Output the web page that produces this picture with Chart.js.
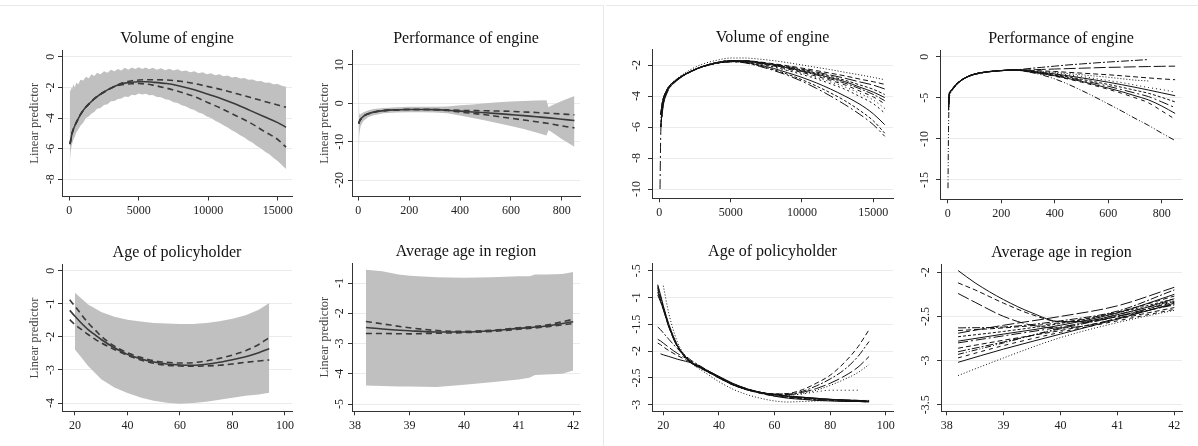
<!DOCTYPE html>
<html><head><meta charset="utf-8">
<script src="https://cdn.jsdelivr.net/npm/chart.js@4.4.1/dist/chart.umd.min.js"></script>
<style>
html,body{margin:0;padding:0;background:#fff;}
body{width:1198px;height:446px;position:relative;overflow:hidden;}
canvas{position:absolute;}
.ln{position:absolute;background:#e8e8e8;}
</style></head><body>
<div class="ln" style="left:0;top:5px;width:603px;height:1px"></div>
<div class="ln" style="left:603px;top:5px;width:1px;height:441px"></div>
<div class="ln" style="left:606px;top:5px;width:592px;height:1px"></div>
<script>
// ---------- Tick values / labels ----------
const p1XTicks = [0,5000,10000,15000];   const p1YTicks = [0,-2,-4,-6,-8];
const p2XTicks = [0,200,400,600,800];    const p2YTicks = [10,0,-10,-20];
const p3XTicks = [20,40,60,80,100];      const p3YTicks = [0,-1,-2,-3,-4];
const p4XTicks = [38,39,40,41,42];       const p4YTicks = [-1,-2,-3,-4,-5];
const p5XTicks = [0,5000,10000,15000];   const p5YTicks = [-2,-4,-6,-8,-10];
const p6XTicks = [0,200,400,600,800];    const p6YTicks = [0,-5,-10,-15];
const p7XTicks = [20,40,60,80,100];      const p7YTicks = [-0.5,-1,-1.5,-2,-2.5,-3];
const p7YLabels = ['-.5','-1','-1.5','-2','-2.5','-3'];
const p8XTicks = [38,39,40,41,42];       const p8YTicks = [-2,-2.5,-3,-3.5];

// ---------- Panel 1: Volume of engine (fit + CI + band) ----------
const p1BandX = [30,60,100,150,200,300,400,500,650,800,1000,1200,1400,1600,1800,2000,2250,2500,2750,3000,3250,3500,3750,4000,4250,4500,4750,5000,5250,5500,5750,6000,6300,6600,6900,7200,7500,7800,8100,8400,8700,9000,9300,9600,9900,10200,10500,10800,11100,11400,11700,12000,12300,12600,12900,13200,13500,13800,14100,14400,14700,15000,15300,15600];
const p1BandHi = [-2.2,-2.1,-2.3,-2.0,-2.1,-1.8,-2.0,-1.7,-1.8,-1.5,-1.55,-1.3,-1.4,-1.15,-1.25,-1.05,-1.15,-0.95,-1.05,-0.85,-0.95,-0.8,-0.9,-0.72,-0.85,-0.7,-0.8,-0.68,-0.8,-0.7,-0.82,-0.72,-0.85,-0.75,-0.88,-0.78,-0.9,-0.82,-0.95,-0.9,-1.02,-0.95,-1.08,-1.02,-1.15,-1.08,-1.2,-1.15,-1.28,-1.22,-1.35,-1.3,-1.42,-1.38,-1.5,-1.48,-1.6,-1.58,-1.7,-1.68,-1.8,-1.78,-1.9,-1.95];
const p1BandLo = [-8.7,-6.6,-6.2,-5.9,-5.7,-5.4,-5.2,-4.95,-4.75,-4.5,-4.3,-4.0,-3.9,-3.7,-3.6,-3.4,-3.35,-3.15,-3.1,-2.9,-2.88,-2.75,-2.72,-2.6,-2.62,-2.48,-2.52,-2.4,-2.47,-2.42,-2.52,-2.5,-2.62,-2.64,-2.77,-2.82,-2.97,-3.02,-3.17,-3.24,-3.4,-3.47,-3.64,-3.72,-3.9,-4.0,-4.17,-4.3,-4.47,-4.62,-4.8,-4.94,-5.12,-5.27,-5.47,-5.62,-5.82,-5.99,-6.2,-6.37,-6.6,-6.8,-7.07,-7.32];
const p1LineX = [50,200,500,1000,1500,2000,2500,3000,3500,4000,4500,5000,5500,6000,7000,8000,9000,10000,11000,12000,13000,14000,15000,15600];
const p1Fit = [-5.7,-5.0,-4.3,-3.5,-3.0,-2.6,-2.3,-2.05,-1.85,-1.72,-1.66,-1.63,-1.63,-1.66,-1.75,-1.92,-2.15,-2.45,-2.75,-3.1,-3.5,-3.9,-4.3,-4.6];
const p1Up  = [-5.7,-5.0,-4.3,-3.5,-3.0,-2.6,-2.3,-2.05,-1.82,-1.66,-1.57,-1.52,-1.5,-1.5,-1.52,-1.6,-1.75,-1.95,-2.15,-2.4,-2.65,-2.9,-3.15,-3.3];
const p1Lo  = [-5.7,-5.0,-4.3,-3.5,-3.0,-2.6,-2.3,-2.05,-1.88,-1.8,-1.76,-1.75,-1.78,-1.85,-2.05,-2.3,-2.6,-3.0,-3.4,-3.85,-4.3,-4.85,-5.4,-5.9];

// ---------- Panel 2: Performance of engine ----------
const p2BandX  = [0.5,2,3.5,6,10,20,40,60,100,150,200,250,300,350,400,450,500,550,600,650,700,740,748,760,800,850];
const p2BandHi = [12,4.5,-2.5,-3.0,-2.8,-2.3,-1.8,-1.5,-1.2,-1.0,-0.9,-0.9,-0.9,-0.8,-0.5,-0.3,0.0,0.3,0.5,0.6,0.7,0.8,-1.0,-0.6,0.6,1.9];
const p2BandLo = [-22.5,-14.5,-8.5,-7.0,-5.8,-4.6,-3.6,-3.1,-2.6,-2.4,-2.3,-2.3,-2.4,-2.6,-3.2,-3.8,-4.5,-5.2,-5.9,-6.7,-7.6,-8.4,-7.0,-7.5,-9.3,-11.3];
const p2LineX = [2,5,10,20,40,60,100,150,200,250,300,350,400,450,500,550,600,650,700,750,800,850];
const p2Fit = [-5.3,-4.6,-4.1,-3.4,-2.7,-2.3,-1.9,-1.7,-1.6,-1.6,-1.65,-1.8,-2.05,-2.25,-2.45,-2.7,-2.95,-3.2,-3.5,-3.8,-4.15,-4.5];
const p2Up  = [-5.3,-4.6,-4.1,-3.4,-2.7,-2.3,-1.9,-1.7,-1.6,-1.6,-1.62,-1.72,-1.85,-1.9,-1.95,-2.02,-2.1,-2.25,-2.4,-2.6,-2.8,-3.0];
const p2Lo  = [-5.3,-4.6,-4.1,-3.4,-2.7,-2.3,-1.9,-1.7,-1.6,-1.6,-1.68,-1.88,-2.3,-2.65,-3.0,-3.45,-3.9,-4.35,-4.8,-5.3,-5.9,-6.4];

// ---------- Panel 3: Age of policyholder ----------
const p3BandX  = [20,25,30,35,40,45,50,55,60,65,70,75,80,85,90,94];
const p3BandHi = [-0.67,-1.02,-1.25,-1.39,-1.48,-1.54,-1.58,-1.6,-1.61,-1.61,-1.58,-1.53,-1.45,-1.35,-1.18,-0.98];
const p3BandLo = [-2.38,-2.88,-3.28,-3.53,-3.7,-3.83,-3.93,-3.99,-4.02,-4.0,-3.96,-3.9,-3.84,-3.78,-3.74,-3.69];
const p3LineX = [18,20,22,25,28,30,35,40,45,50,55,60,65,70,75,80,85,90,94];
const p3Fit = [-1.2,-1.38,-1.55,-1.78,-1.96,-2.08,-2.33,-2.53,-2.66,-2.76,-2.82,-2.85,-2.86,-2.83,-2.77,-2.69,-2.6,-2.48,-2.36];
const p3Up  = [-0.88,-1.08,-1.28,-1.58,-1.82,-1.98,-2.28,-2.48,-2.62,-2.72,-2.77,-2.79,-2.78,-2.73,-2.65,-2.55,-2.42,-2.23,-2.02];
const p3Lo  = [-1.48,-1.63,-1.75,-1.93,-2.09,-2.18,-2.38,-2.56,-2.7,-2.8,-2.86,-2.88,-2.89,-2.88,-2.86,-2.82,-2.77,-2.73,-2.7];

// ---------- Panel 4: Average age in region ----------
const p4BandX  = [38.2,38.5,38.8,39,39.5,40,40.5,41,41.2,41.3,41.5,41.8,42];
const p4BandHi = [-0.56,-0.61,-0.72,-0.76,-0.81,-0.83,-0.81,-0.78,-0.78,-0.72,-0.72,-0.7,-0.64];
const p4BandLo = [-4.39,-4.4,-4.42,-4.42,-4.44,-4.36,-4.28,-4.19,-4.13,-4.04,-4.02,-4.0,-3.89];
const p4LineX = [38.2,38.5,39,39.5,40,40.5,41,41.5,42];
const p4Fit = [-2.47,-2.52,-2.58,-2.62,-2.62,-2.58,-2.5,-2.42,-2.28];
const p4Up  = [-2.27,-2.35,-2.48,-2.57,-2.6,-2.56,-2.48,-2.39,-2.2];
const p4Lo  = [-2.67,-2.67,-2.68,-2.66,-2.64,-2.6,-2.53,-2.45,-2.34];

// ---------- Panel 5: Volume of engine (many fits) ----------
const p5X = [50,100,200,300,500,750,1000,1500,2000,2500,3000,4000,5000,6000,7000,8000,9000,10000,11000,12000,13000,14000,15000,15800];
const p5HeadA = [null,-5.2,-4.5,-4.1,-3.65,-3.3,-3.1,-2.75,-2.5,-2.28,-2.1,-1.85,-1.72];
const p5HeadB = [null,-6.0,-5.0,-4.4,-3.8,-3.4,-3.15,-2.8,-2.52,-2.3,-2.12,-1.88,-1.78];
const p5HeadC = [-10,-6.5,-5.2,-4.5,-3.9,-3.45,-3.2,-2.82,-2.54,-2.32,-2.14,-1.9,-1.8];
const p5HeadD = [null,-5.4,-4.7,-4.2,-3.7,-3.3,-3.05,-2.7,-2.4,-2.15,-1.95,-1.7,-1.55];
const p5Tails = [
  [-1.55,-1.62,-1.72,-1.85,-2.0,-2.15,-2.3,-2.47,-2.63,-2.8,-2.95],
  [-1.72,-1.8,-1.92,-2.05,-2.2,-2.36,-2.53,-2.7,-2.9,-3.08,-3.25],
  [-1.72,-1.82,-1.95,-2.1,-2.27,-2.45,-2.65,-2.85,-3.08,-3.3,-3.55],
  [-1.74,-1.84,-1.98,-2.14,-2.32,-2.52,-2.74,-2.98,-3.27,-3.57,-3.9],
  [-1.75,-1.86,-2.0,-2.18,-2.38,-2.58,-2.82,-3.07,-3.41,-3.75,-4.1],
  [-1.76,-1.87,-2.02,-2.2,-2.42,-2.64,-2.9,-3.17,-3.51,-3.9,-4.3],
  [-1.78,-1.9,-2.06,-2.26,-2.48,-2.72,-2.99,-3.28,-3.66,-4.06,-4.5],
  [-1.8,-1.93,-2.11,-2.31,-2.54,-2.8,-3.09,-3.41,-3.81,-4.26,-4.8],
  [-1.8,-1.95,-2.13,-2.36,-2.61,-2.89,-3.21,-3.56,-4.01,-4.5,-5.1],
  [-1.82,-2.0,-2.22,-2.5,-2.8,-3.15,-3.55,-4.0,-4.5,-5.15,-5.85],
  [-1.85,-2.05,-2.3,-2.6,-2.95,-3.35,-3.8,-4.3,-4.9,-5.6,-6.4],
  [-1.86,-2.08,-2.35,-2.67,-3.05,-3.5,-4.0,-4.55,-5.15,-5.85,-6.6]
];

// ---------- Panel 6: Performance of engine (many fits) ----------
const p6X = [1,3,5,10,15,20,30,50,75,100,150,200,250,300,350,400,450,500,550,600,650,700,750,800,850];
const p6HeadA = [null,-6.5,-5.0,-4.3,-4.1,-3.9,-3.5,-2.9,-2.45,-2.15,-1.85,-1.7,-1.62];
const p6HeadB = [-16,-9,-5.8,-4.5,-4.2,-3.95,-3.55,-2.92,-2.47,-2.17,-1.86,-1.71,-1.63];
const p6HeadC = [null,-6.0,-4.6,-4.2,-4.0,-3.8,-3.4,-2.85,-2.4,-2.1,-1.82,-1.68,-1.6];
const p6Tails = [
  [-1.45,-1.3,-1.15,-1.0,-0.88,-0.76,-0.65,-0.55,-0.45,-0.35,null,null],
  [-1.6,-1.55,-1.5,-1.45,-1.4,-1.35,-1.3,-1.27,-1.23,-1.2,-1.17,-1.15],
  [-1.65,-1.72,-1.8,-1.9,-2.0,-2.1,-2.2,-2.32,-2.45,-2.58,-2.7,-2.8],
  [-1.7,-1.8,-1.92,-2.05,-2.2,-2.35,-2.5,-2.68,-2.85,-2.95,null,null],
  [-1.7,-1.85,-2.0,-2.2,-2.4,-2.65,-2.9,-3.15,-3.45,-3.75,-4.0,-4.3],
  [-1.72,-1.9,-2.1,-2.32,-2.57,-2.83,-3.1,-3.4,-3.72,-4.05,-4.4,-4.75],
  [-1.75,-1.95,-2.18,-2.45,-2.75,-3.05,-3.38,-3.72,-4.08,-4.45,-4.95,-5.5],
  [-1.78,-2.0,-2.25,-2.55,-2.88,-3.22,-3.6,-4.0,-4.42,-4.85,-5.5,-6.2],
  [-1.8,-2.05,-2.32,-2.65,-3.0,-3.4,-3.82,-4.25,-4.75,-5.25,-6.0,-6.9],
  [-1.82,-2.08,-2.38,-2.72,-3.1,-3.52,-3.97,-4.45,-5.0,-5.6,-6.6,-7.6],
  [-1.85,-2.2,-2.7,-3.35,-4.1,-4.9,-5.75,-6.6,-7.5,-8.35,-9.3,-10.2]
];

// ---------- Panel 7: Age of policyholder (many fits) ----------
const p7X = [18,19,20,22,25,28,30,35,40,45,50,55,60,65,70,75,80,85,90,94];
const p7Lines = [
  [-0.76,-0.95,-1.15,-1.5,-1.88,-2.1,-2.2,-2.34,-2.48,-2.62,-2.71,-2.77,-2.81,-2.84,-2.86,-2.88,-2.9,-2.91,-2.92,-2.93],
  [-0.8,-1.0,-1.18,-1.52,-1.9,-2.12,-2.22,-2.36,-2.5,-2.63,-2.72,-2.77,-2.8,-2.79,-2.72,-2.6,-2.45,-2.22,-1.92,-1.6],
  [-0.85,-1.02,-1.2,-1.53,-1.9,-2.11,-2.21,-2.35,-2.49,-2.62,-2.71,-2.77,-2.8,-2.8,-2.75,-2.65,-2.52,-2.35,-2.1,-1.82],
  [-0.9,-1.05,-1.22,-1.55,-1.92,-2.12,-2.22,-2.36,-2.5,-2.63,-2.72,-2.78,-2.81,-2.81,-2.77,-2.7,-2.6,-2.47,-2.3,-2.1],
  [-0.78,-0.97,-1.16,-1.5,-1.88,-2.1,-2.2,-2.35,-2.5,-2.63,-2.72,-2.78,-2.81,-2.82,-2.79,-2.73,-2.64,-2.53,-2.4,-2.25],
  [-0.82,-1.0,-1.18,-1.52,-1.9,-2.12,-2.22,-2.36,-2.5,-2.63,-2.72,-2.78,-2.81,-2.82,-2.8,-2.76,-2.73,-2.73,-2.73,null],
  [null,-2.05,-2.07,-2.1,-2.15,-2.19,-2.22,-2.34,-2.47,-2.6,-2.7,-2.78,-2.84,-2.88,-2.9,-2.92,-2.93,-2.94,-2.94,-2.95],
  [-1.85,-1.88,-1.92,-1.99,-2.08,-2.16,-2.21,-2.35,-2.49,-2.62,-2.72,-2.79,-2.84,-2.87,-2.89,-2.91,-2.92,-2.93,-2.94,-2.95],
  [-1.78,-1.81,-1.85,-1.93,-2.04,-2.13,-2.19,-2.34,-2.48,-2.61,-2.7,-2.77,-2.82,-2.85,-2.87,-2.89,-2.9,-2.91,-2.92,-2.93],
  [-1.55,-1.6,-1.66,-1.78,-1.95,-2.09,-2.17,-2.33,-2.48,-2.61,-2.71,-2.78,-2.83,-2.86,-2.88,-2.9,-2.91,-2.92,-2.93,-2.94],
  [null,null,-0.78,-1.3,-1.82,-2.1,-2.22,-2.4,-2.57,-2.71,-2.81,-2.88,-2.93,-2.95,-2.94,-2.93,-2.92,-2.92,-2.92,-2.92],
  [-0.95,-1.08,-1.22,-1.55,-1.9,-2.11,-2.21,-2.35,-2.49,-2.62,-2.71,-2.77,-2.81,-2.84,-2.86,-2.88,-2.9,-2.92,-2.93,-2.94]
];

// ---------- Panel 8: Average age in region (many fits) ----------
const p8CurveX = [38.2,38.5,39,39.5,40,40.5,41,41.5,42];
const p8Curves = [
  [-1.98,-2.12,-2.31,-2.46,-2.56,-2.55,-2.48,-2.4,-2.3],
  [-2.12,-2.2,-2.35,-2.48,-2.56,-2.56,-2.5,-2.42,-2.34],
  [-2.24,-2.34,-2.5,-2.6,-2.63,-2.6,-2.52,-2.44,-2.36]
];
const p8LineX = [38.2,39,40,41,42];
const p8Lines = [
  [-2.63,-2.62,-2.55,-2.44,-2.2],
  [-2.66,-2.63,-2.57,-2.45,-2.27],
  [-2.69,-2.6,-2.5,-2.38,-2.17],
  [-2.73,-2.67,-2.58,-2.46,-2.3],
  [-2.78,-2.7,-2.6,-2.46,-2.25],
  [-2.8,-2.72,-2.62,-2.5,-2.33],
  [-2.86,-2.77,-2.66,-2.53,-2.4],
  [-2.9,-2.79,-2.64,-2.5,-2.37],
  [-2.97,-2.83,-2.68,-2.55,-2.42],
  [-3.02,-2.87,-2.7,-2.53,-2.35],
  [-3.17,-2.97,-2.74,-2.57,-2.43],
  [-2.93,-2.8,-2.63,-2.48,-2.32]
];

// ---------- helpers ----------
const SERIF = '"Liberation Serif", "Times New Roman", serif';
const DASHES = [[],[5,3],[1,2],[8,2,2,2],[12,3],[3,2],[6,2,1,2,1,2],[1,3],[10,3,2,3],[4,4],[2,3],[7,3]];
const DARK = '#3a3a3a';
function pts(xs, ys){ return xs.map((x,i)=>({x:x, y:ys[i]})).filter(p=>p.y!==null && p.y!==undefined); }
function fitLine(xs, ys, dash){ return {data:pts(xs,ys), borderColor:DARK, borderWidth:1.6, borderDash:dash, fill:false, cubicInterpolationMode:'monotone', pointRadius:0}; }
function band(xs, hi, lo){
  return [
    {data:pts(xs,hi), borderColor:'rgba(0,0,0,0)', borderWidth:0, backgroundColor:'#c0c0c0', fill:'+1', tension:0, pointRadius:0},
    {data:pts(xs,lo), borderColor:'rgba(0,0,0,0)', borderWidth:0, fill:false, tension:0, pointRadius:0}
  ];
}
function thin(xs, ys, i){ return {data:pts(xs,ys), borderColor:'#111', borderWidth:1, borderDash:DASHES[i % DASHES.length], fill:false, cubicInterpolationMode:'monotone', pointRadius:0}; }
function fmt(v){ return String(v); }

function textPlugin(p){
  return {id:'txt', afterDraw(chart){
    const ctx = chart.ctx, a = chart.chartArea, xs = chart.scales.x, ys = chart.scales.y;
    ctx.save();
    ctx.fillStyle = '#111';
    ctx.font = '16px ' + SERIF;
    ctx.textAlign = 'center'; ctx.textBaseline = 'alphabetic';
    ctx.fillText(p.title, (a.left + a.right)/2, a.top - 7.5);
    ctx.fillStyle = '#222';
    ctx.font = '12px ' + SERIF;
    ctx.textBaseline = 'middle';
    p.xTicks.forEach(v => ctx.fillText(fmt(v), xs.getPixelForValue(v), a.bottom + 14.5));
    p.yTicks.forEach((v,i) => {
      ctx.save();
      ctx.translate(a.left - p.yGap, ys.getPixelForValue(v));
      ctx.rotate(-Math.PI/2);
      ctx.fillText(p.yLabels ? p.yLabels[i] : fmt(v), 0, 0);
      ctx.restore();
    });
    if (p.yTitle){
      ctx.save();
      ctx.fillStyle = '#444';
      ctx.font = '12.5px ' + SERIF;
      ctx.translate(a.left - 27.5, (a.top + a.bottom)/2);
      ctx.rotate(-Math.PI/2);
      ctx.fillText(p.yTitle, 0, 0);
      ctx.restore();
    }
    ctx.restore();
  }};
}

function makePanel(p){
  const c = document.createElement('canvas');
  c.width = p.box[2]; c.height = p.box[3];
  c.style.left = p.box[0] + 'px'; c.style.top = p.box[1] + 'px';
  document.body.appendChild(c);
  const pad = {left:p.area[0]-p.box[0], top:p.area[1]-p.box[1], right:p.box[0]+p.box[2]-p.area[2], bottom:p.box[1]+p.box[3]-p.area[3]};
  new Chart(c, {
    type:'line',
    data:{datasets:p.datasets},
    options:{
      responsive:false, animation:false, events:[],
      layout:{padding:pad},
      plugins:{legend:{display:false}, tooltip:{enabled:false}, title:{display:false}},
      elements:{point:{radius:0}},
      scales:{
        x:{type:'linear', min:p.xMin, max:p.xMax,
           afterFit:s=>{s.height=0;},
           afterBuildTicks:s=>{s.ticks = p.xTicks.map(v=>({value:v}));},
           ticks:{display:false},
           grid:{drawOnChartArea:false, drawTicks:true, tickLength:4, tickColor:'#333', tickWidth:1},
           border:{display:true, color:'#333', width:1}},
        y:{type:'linear', min:p.yMin, max:p.yMax,
           afterFit:s=>{s.width=0;},
           afterBuildTicks:s=>{s.ticks = p.yTicks.map(v=>({value:v}));},
           ticks:{display:false},
           grid:{drawOnChartArea:true, color:'#ebebeb', lineWidth:1, drawTicks:true, tickLength:4, tickColor:'#333', tickWidth:1},
           border:{display:true, color:'#333', width:1}}
      }
    },
    plugins:[textPlugin(p)]
  });
}

const LP = 'Linear predictor';
makePanel({box:[0,0,300,223], area:[62,50,292,196.5], xMin:-525, xMax:16030, yMin:-9.12, yMax:0.44,
  xTicks:p1XTicks, yTicks:p1YTicks, yGap:11.5, title:'Volume of engine', yTitle:LP,
  datasets:[fitLine(p1LineX,p1Fit,[]), fitLine(p1LineX,p1Up,[6,4]), fitLine(p1LineX,p1Lo,[6,4])].concat(band(p1BandX,p1BandHi,p1BandLo))});
makePanel({box:[300,0,300,223], area:[352,50,580,196.5], xMin:-24.8, xMax:871.8, yMin:-24.3, yMax:13.9,
  xTicks:p2XTicks, yTicks:p2YTicks, yGap:12.5, title:'Performance of engine', yTitle:LP,
  datasets:[fitLine(p2LineX,p2Fit,[]), fitLine(p2LineX,p2Up,[6,4]), fitLine(p2LineX,p2Lo,[6,4])].concat(band(p2BandX,p2BandHi,p2BandLo))});
makePanel({box:[0,223,300,223], area:[62,264.7,292,411.3], xMin:15.05, xMax:102.67, yMin:-4.25, yMax:0.18,
  xTicks:p3XTicks, yTicks:p3YTicks, yGap:11.5, title:'Age of policyholder', yTitle:LP,
  datasets:[fitLine(p3LineX,p3Fit,[]), fitLine(p3LineX,p3Up,[6,4]), fitLine(p3LineX,p3Lo,[6,4])].concat(band(p3BandX,p3BandHi,p3BandLo))});
makePanel({box:[300,223,300,223], area:[352,263,580,411.3], xMin:37.945, xMax:42.125, yMin:-5.24, yMax:-0.339,
  xTicks:p4XTicks, yTicks:p4YTicks, yGap:12.5, title:'Average age in region', yTitle:LP,
  datasets:[fitLine(p4LineX,p4Fit,[]), fitLine(p4LineX,p4Up,[6,4]), fitLine(p4LineX,p4Lo,[6,4])].concat(band(p4BandX,p4BandHi,p4BandLo))});

const p5Heads = [p5HeadD,p5HeadA,p5HeadB,p5HeadA,p5HeadB,p5HeadA,p5HeadB,p5HeadA,p5HeadB,p5HeadA,p5HeadB,p5HeadC];
makePanel({box:[606,0,296,223], area:[652,49.3,893,198.3], xMin:-512, xMax:16380, yMin:-10.6, yMax:-0.987,
  xTicks:p5XTicks, yTicks:p5YTicks, yGap:15.5, title:'Volume of engine',
  datasets:p5Tails.map((t,i)=>thin(p5X, p5Heads[i].concat(t), [2,1,4,5,0,3,9,7,10,0,5,8][i]))});
const p6Heads = [p6HeadA,p6HeadC,p6HeadA,p6HeadC,p6HeadA,p6HeadC,p6HeadA,p6HeadC,p6HeadA,p6HeadC,p6HeadB];
makePanel({box:[902,0,296,223], area:[940,50,1182,199.3], xMin:-28.8, xMax:875.7, yMin:-17.35, yMax:0.815,
  xTicks:p6XTicks, yTicks:p6YTicks, yGap:15.5, title:'Performance of engine',
  datasets:p6Tails.map((t,i)=>thin(p6X, p6Heads[i].concat(t), [3,4,1,2,7,0,5,8,0,9,6][i]))});
makePanel({box:[606,223,296,223], area:[652,263.7,893,411.3], xMin:15.94, xMax:102.6, yMin:-3.123, yMax:-0.369,
  xTicks:p7XTicks, yTicks:p7YTicks, yLabels:p7YLabels, yGap:15.5, title:'Age of policyholder',
  datasets:p7Lines.map((l,i)=>thin(p7X, l, [0,1,3,4,2,7,0,1,4,3,2,0][i]))});
makePanel({box:[902,223,296,223], area:[941,264.7,1182,411.3], xMin:37.9, xMax:42.135, yMin:-3.575, yMax:-1.914,
  xTicks:p8XTicks, yTicks:p8YTicks, yGap:15.5, title:'Average age in region',
  datasets:p8Curves.map((l,i)=>thin(p8CurveX, l, [0,1,4][i])).concat(p8Lines.map((l,i)=>thin(p8LineX, l, [3,1,4,5,0,8,1,3,9,0,2,6][i])))});
</script>
</body></html>
